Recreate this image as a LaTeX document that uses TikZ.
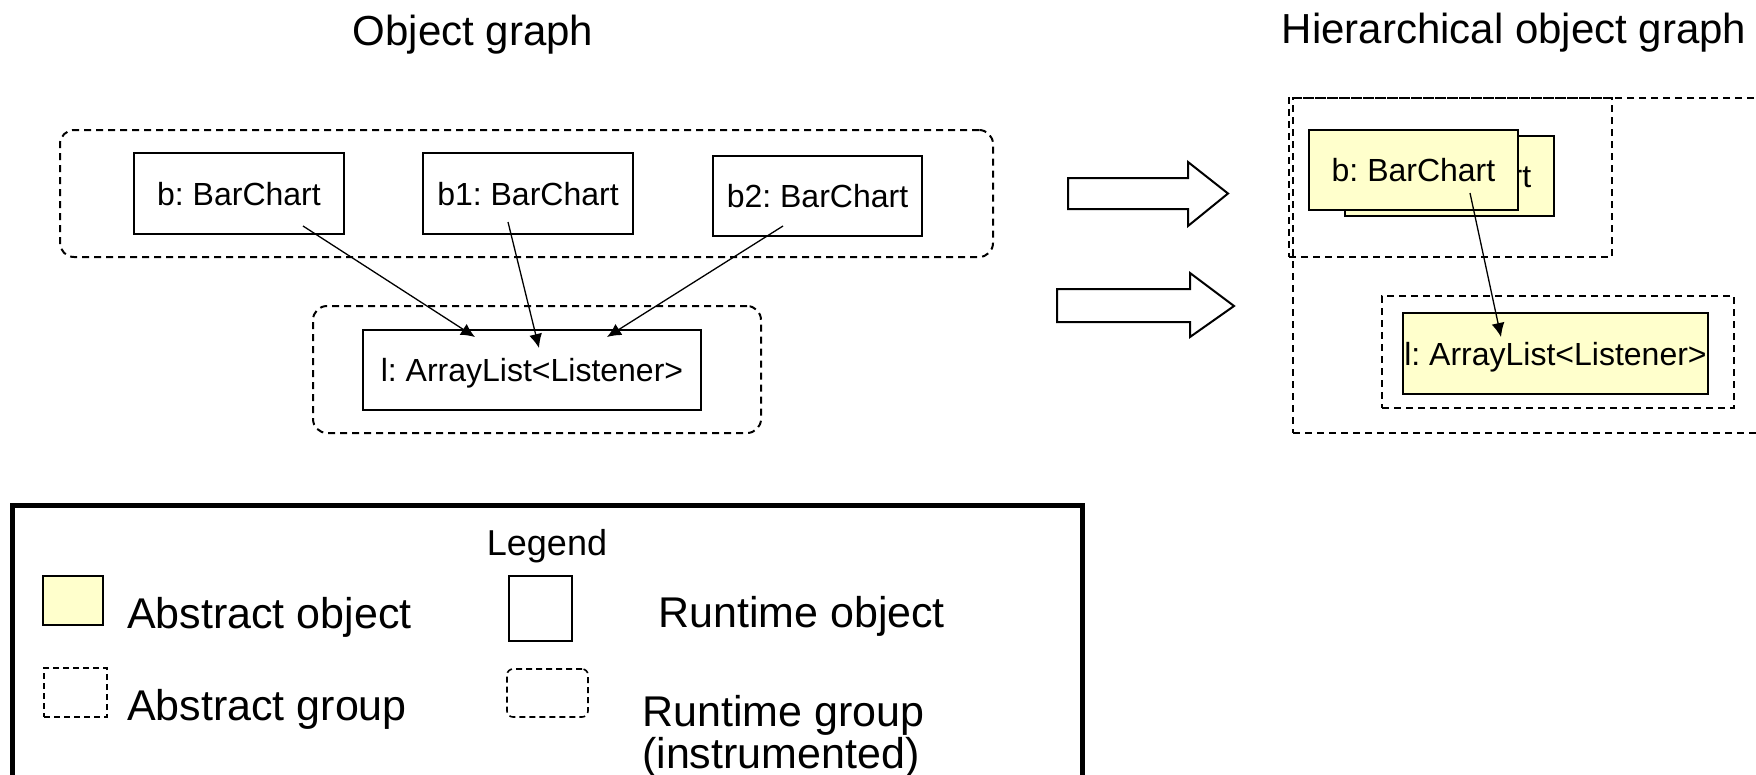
\documentclass[tikz,border=0pt]{standalone}
\usepackage{fontspec}
\setmainfont{Liberation Sans}
\usetikzlibrary{arrows.meta,calc}
\definecolor{absyellow}{HTML}{FFFFCC}
\frenchspacing
\begin{document}
\begin{tikzpicture}[x=1pt,y=-1pt,
  obj/.style={draw,line width=2pt,inner sep=0pt,font=\fontsize{32}{38}\selectfont,text height=23pt,text depth=0pt,minimum height=80pt,fill=white},
  absobj/.style={obj,fill=absyellow},
  rgroup/.style={draw,line width=2pt,dash pattern=on 7pt off 5pt,rounded corners=14pt,inner sep=0pt},
  agroup/.style={draw,line width=2pt,dash pattern=on 7pt off 5pt,inner sep=0pt},
  conn/.style={line width=1.3pt,-{Latex[length=14pt,width=13pt]}},
  bigarrow/.style={draw,line width=2pt,fill=white,line join=miter},
  title/.style={font=\fontsize{42}{50}\selectfont,inner sep=0pt,anchor=base},
  legtext/.style={font=\fontsize{43}{50}\selectfont,inner sep=0pt,anchor=base west},
  legsym/.style={draw,line width=2pt,inner sep=0pt},
  legdash/.style={draw,line width=1.6pt,dash pattern=on 6pt off 4pt,inner sep=0pt},
]
\useasboundingbox (0,0) rectangle (1756,774);
\clip (0,0) rectangle (1756,774);

% titles
\node[title] (t1) at (473,45) {Object graph};
\node[title] (t2) at (1514,43) {Hierarchical object graph};

% ---- left: object graph
\node[rgroup,minimum width=933pt,minimum height=127pt] (rg1) at (526.5,193.5) {};
\node[rgroup,minimum width=448pt,minimum height=127pt] (rg2) at (537,369.5) {};
\node[obj,minimum width=210pt,minimum height=81pt] (b) at (239,193.5) {b: BarChart};
\node[obj,minimum width=210pt,minimum height=81pt] (b1) at (528,193.5) {b1: BarChart};
\node[obj,minimum width=209pt] (b2) at (817.5,196) {b2: BarChart};
\node[obj,minimum width=338pt] (l) at (532,370) {l: ArrayList<Listener>};

\coordinate (bs) at ($(b.center)+(64,32.5)$);
\coordinate (b1s) at ($(b1.center)+(-20,28.5)$);
\coordinate (b2s) at ($(b2.center)+(-34.5,30)$);
\coordinate (lin1) at ($(l.center)+(-57,-33)$);
\coordinate (lin2) at ($(l.center)+(7,-22)$);
\coordinate (lin3) at ($(l.center)+(75,-33)$);
\draw[conn] (bs) -- (lin1);
\draw[conn] (b1s) -- (lin2);
\draw[conn] (b2s) -- (lin3);

% ---- block arrows
\draw[bigarrow] (1068,178) -- (1188,178) -- (1188,162) -- (1228,193.5) -- (1188,226) -- (1188,209) -- (1068,209) -- cycle;
\draw[bigarrow] (1057,289) -- (1190,289) -- (1190,273) -- (1234,306) -- (1190,337) -- (1190,322) -- (1057,322) -- cycle;

% ---- right: hierarchical object graph
\node[agroup,minimum width=507pt,minimum height=335pt] (ago) at (1546.5,265.5) {};
\node[agroup,minimum width=323pt,minimum height=159pt] (agt) at (1450.5,177.5) {};
\node[absobj,minimum width=209pt] (bback) at (1449.5,176) {b: BarChart};
\node[absobj,minimum width=209pt] (bfront) at (1413.5,170) {b: BarChart};
\node[agroup,minimum width=352pt,minimum height=112pt] (agb) at (1558,352) {};
\node[absobj,minimum width=305pt,minimum height=81pt] (l2) at (1555.5,353.5) {l: ArrayList<Listener>};
\coordinate (bfs) at ($(bfront.center)+(56.5,23)$);
\coordinate (l2in) at ($(l2.center)+(-54.5,-16.5)$);
\draw[conn] (bfs) -- (l2in);

% ---- legend
\draw[line width=4.5pt] (12.5,505.5) rectangle (1082.5,820);
\node[font=\fontsize{36}{42}\selectfont,inner sep=0pt,anchor=base] (leg) at (547,555) {Legend};
\node[legsym,fill=absyellow,minimum width=60pt,minimum height=49pt] (s1) at (73,600.5) {};
\node[legtext] (s1t) at (127,628) {Abstract object};
\node[legsym,fill=white,minimum width=63pt,minimum height=65pt] (s2) at (540.5,608.5) {};
\node[legtext] (s2t) at (658,627) {Runtime object};
\node[legdash,minimum width=63pt,minimum height=49pt] (s3) at (75.5,692.5) {};
\node[legtext] (s3t) at (127,720) {Abstract group};
\node[legdash,rounded corners=6pt,minimum width=81pt,minimum height=48pt] (s4) at (547.5,693) {};
\node[legtext] (s4t) at (642,726) {Runtime group};
\node[legtext] (s4u) at (642,768) {(instrumented)};
\end{tikzpicture}
\end{document}
